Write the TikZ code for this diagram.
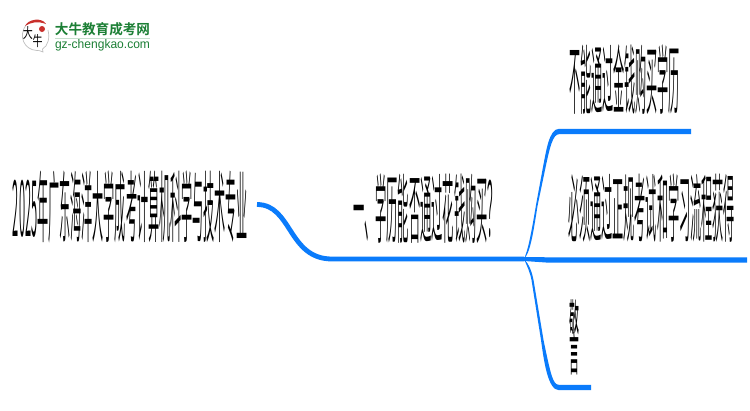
\documentclass[tikz,border=0pt]{standalone}
\usepackage{fontspec}
\usepackage{graphicx}
\newfontfamily\cjk{Noto Sans CJK SC DemiLight}
\newfontfamily\cjkreg{Noto Sans CJK SC}
\newfontfamily\cjkbold{Noto Sans CJK SC Bold}
\newfontfamily\latinf{Liberation Sans}
\definecolor{linkblue}{HTML}{0A7BFB}
\definecolor{logogreen}{HTML}{1C7F35}
\definecolor{logored}{HTML}{C9302C}
\newcommand{\squeezed}[3]{\resizebox{#1pt}{#2pt}{\cjk #3}}
\tikzset{
  x=1pt,y=-1pt,
  lab/.style={inner sep=0pt,outer sep=0pt,text=black},
  tapered/.style={fill=linkblue,draw=none},
  thicklink/.style={draw=linkblue,line width=4.8pt},
}
\usetikzlibrary{calc}
\begin{document}
\begin{tikzpicture}
\useasboundingbox[fill=white] (0,0) rectangle (750,410);
% logo
\draw[black!25,line width=0.7pt] (26,25) .. controls (18,36) and (24,50) .. (37,50.5) .. controls (39,50.5) and (40,50.5) .. (43,52) -- (42.5,49) .. controls (48,46) and (50,38) .. (48,30);
\fill[logored] (25,26) .. controls (28,19) and (42,17) .. (46,24) .. controls (38,21) and (31,22) .. (25,26) -- cycle;
\fill[logored] (42,29) circle (3);
\node[lab] (logoda) at (28,33.5) {\resizebox{10pt}{12pt}{\cjkreg 大}};
\node[lab] (logoniu) at (37.5,41.5) {\resizebox{10pt}{12pt}{\cjkreg 牛}};
\node[lab,anchor=west] (logotitle) at (55,29.5) {\resizebox{95pt}{12pt}{\cjkbold\color{logogreen}大牛教育成考网}};
\node[lab,anchor=west] (logourl) at (55,45.5) {\resizebox{95pt}{9pt}{\latinf\color{logogreen}gz-chengkao.com}};
\draw[logogreen!25,line width=0.8pt] (55,38.5) -- (150,38.5);
% text
\node[lab] (root) at (130.5,206.5) {\squeezed{235}{66}{2025年广东海洋大学成考计算机科学与技术专业}};
\node[lab] (q) at (426,209) {\squeezed{146}{64}{一、学历能否通过花钱购买？}};
\node[lab] (a1) at (624.5,80) {\squeezed{111}{64}{不能通过金钱购买学历}};
\node[lab] (a2) at (651.5,208.5) {\squeezed{167}{63}{必须通过正规考试和学习流程获得}};
\node[lab] (a3) at (574,337.5) {\resizebox{10pt}{69pt}{\cjkreg 警}};
% connectors
\coordinate (start) at (257,204.5);
\coordinate (rootend) at (332,259);
\coordinate (j) at (524,259);
\coordinate (t1) at (559,131.5);
\coordinate (e1) at (691,131.5);
\coordinate (t2) at (549,260);
\coordinate (e2) at (747,260);
\coordinate (t3) at (559,387.5);
\coordinate (e3) at (591,387.5);
\draw[thicklink] (start) .. controls (292,204.5) and (288,259) .. (rootend) -- (j);
% upper branch, tapering from the junction
\fill[tapered] (j) .. controls (528,250) and (531,235) .. (536,205) -- (543,167) .. controls (546,152) and (549,128.8) .. ($(t1)+(0,-2.7)$) -- ($(e1)+(0,-2.7)$) -- ($(e1)+(0,2.7)$) -- ($(t1)+(0,2.7)$) .. controls (553,134.2) and (550,146) .. (545,170) -- (537.5,206) .. controls (533,235) and (530,253) .. (j) -- cycle;
% middle branch
\fill[tapered] ($(j)+(0,-2)$) -- ($(t2)+(0,-2.7)$) -- ($(e2)+(0,-2.7)$) -- ($(e2)+(0,2.7)$) -- ($(t2)+(0,2.7)$) -- ($(j)+(0,2)$) -- cycle;
% lower branch
\fill[tapered] (j) .. controls (527,266) and (530,272) .. (531.5,280) -- (541,340) .. controls (544,362) and (548,390.2) .. ($(t3)+(0,2.7)$) -- ($(e3)+(0,2.7)$) -- ($(e3)+(0,-2.7)$) -- ($(t3)+(0,-2.7)$) .. controls (553,384.8) and (551,376) .. (543.5,340) -- (533.5,280) .. controls (532,272) and (529,264) .. (j) -- cycle;
\end{tikzpicture}
\end{document}
